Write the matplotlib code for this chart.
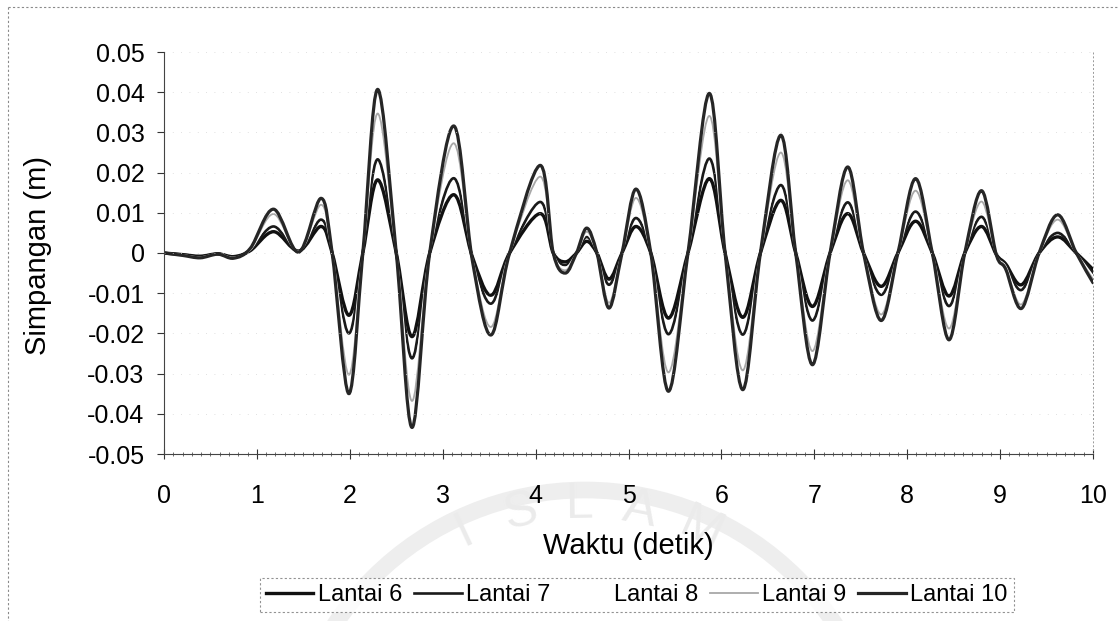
import numpy as np
import matplotlib
matplotlib.use("Agg")
import matplotlib.pyplot as plt
from matplotlib.path import Path
from matplotlib.patches import PathPatch, Circle
from matplotlib.lines import Line2D
from matplotlib.ticker import MultipleLocator, FuncFormatter

plt.rcParams['font.family'] = ['Liberation Sans', 'DejaVu Sans']

# waktu (detik): puncak, lembah dan titik nol tiap siklus
waktu = [0.0, 0.2, 0.39, 0.58, 0.75, 0.93, 1.18, 1.45, 1.69, 1.81,
         1.99, 2.14, 2.30, 2.50, 2.67, 2.86, 3.12, 3.32, 3.52, 3.72,
         4.05, 4.19, 4.32, 4.44, 4.55, 4.66, 4.79, 4.93, 5.08, 5.24,
         5.43, 5.64, 5.87, 6.04, 6.23, 6.42, 6.64, 6.80, 6.98, 7.17,
         7.36, 7.53, 7.72, 7.90, 8.09, 8.27, 8.45, 8.62, 8.80, 8.96,
         9.06, 9.23, 9.42, 9.62, 9.82, 10.0]

# simpangan (m) tiap lantai
lantai_6 = [0, -0.0004, -0.0008, -0.0002, -0.0009, 0.0006, 0.0053, 0.0005, 0.0066, 0,
            -0.0155, 0, 0.0182, 0, -0.0208, 0, 0.0145, -0.0010, -0.0105, 0,
            0.0098, 0, -0.0022, 0, 0.0029, 0, -0.0065, 0, 0.0066, 0,
            -0.0162, 0, 0.0185, 0, -0.0160, 0, 0.0131, 0, -0.0133, 0,
            0.0098, 0, -0.0083, 0, 0.0079, 0, -0.0107, 0, 0.0066, -0.0004,
            -0.0027, -0.0079, 0, 0.0040, 0, -0.0041]
lantai_7 = [0, -0.0004, -0.0009, -0.0002, -0.0010, 0.0007, 0.0066, 0.0004, 0.0083, 0,
            -0.0200, 0, 0.0233, 0, -0.0262, 0, 0.0186, -0.0012, -0.0126, 0,
            0.0127, 0, -0.0030, 0, 0.0040, 0, -0.0079, 0, 0.0087, 0,
            -0.0202, 0, 0.0235, 0, -0.0203, 0, 0.0169, 0, -0.0168, 0,
            0.0126, 0, -0.0104, 0, 0.0103, 0, -0.0132, 0, 0.0090, -0.0004,
            -0.0030, -0.0092, 0, 0.0050, 0, -0.0050]
lantai_8 = [0, -0.0005, -0.0010, -0.0002, -0.0011, 0.0008, 0.0082, 0.0004, 0.0101, 0,
            -0.0250, 0, 0.0290, 0, -0.0315, 0, 0.0230, -0.0015, -0.0155, 0,
            0.0158, 0, -0.0036, 0, 0.0046, 0, -0.0101, 0, 0.0112, 0,
            -0.0250, 0, 0.0288, 0, -0.0248, 0, 0.0209, 0, -0.0206, 0,
            0.0153, 0, -0.0128, 0, 0.0129, 0, -0.0160, 0, 0.0109, -0.0005,
            -0.0033, -0.0110, 0, 0.0066, 0, -0.0057]
lantai_9 = [0, -0.0005, -0.0011, -0.0003, -0.0012, 0.0010, 0.0097, 0.0003, 0.0120, 0,
            -0.0303, 0, 0.0347, 0, -0.0368, 0, 0.0273, -0.0018, -0.0184, 0,
            0.0190, 0, -0.0043, 0, 0.0053, 0, -0.0124, 0, 0.0137, 0,
            -0.0297, 0, 0.0341, 0, -0.0292, 0, 0.0250, 0, -0.0244, 0,
            0.0181, 0, -0.0153, 0, 0.0155, 0, -0.0188, 0, 0.0128, -0.0005,
            -0.0037, -0.0128, 0, 0.0083, 0, -0.0065]
lantai_10 = [0, -0.0006, -0.0012, -0.0003, -0.0013, 0.0012, 0.0109, 0.0002, 0.0136, 0,
             -0.0350, 0, 0.0407, 0, -0.0434, 0, 0.0316, -0.0020, -0.0204, 0,
             0.0218, 0, -0.0050, 0, 0.0062, 0, -0.0137, 0, 0.0159, 0,
             -0.0344, 0, 0.0397, 0, -0.0340, 0, 0.0293, 0, -0.0278, 0,
             0.0214, 0, -0.0168, 0, 0.0185, 0, -0.0216, 0, 0.0155, -0.0005,
             -0.0040, -0.0138, 0, 0.0095, 0, -0.0074]

labels = ['Lantai 6', 'Lantai 7', 'Lantai 8', 'Lantai 9', 'Lantai 10']
series = [lantai_6, lantai_7, lantai_8, lantai_9, lantai_10]
colors = ['#111111', '#1a1a1a', '#ffffff', '#a8a8a8', '#262626']
widths = [2.4, 1.9, 1.2, 1.3, 2.3]


def smooth_path(x, y):
    # garis halus (kurva Bezier Catmull-Rom) melalui titik data
    pts = np.column_stack([x, y]).astype(float)
    n = len(pts)
    verts = [pts[0]]
    codes = [Path.MOVETO]
    for i in range(n - 1):
        p0 = pts[i - 1] if i > 0 else pts[i]
        p1 = pts[i]
        p2 = pts[i + 1]
        p3 = pts[i + 2] if i + 2 < n else pts[i + 1]
        verts += [p1 + (p2 - p0) / 6.0, p2 - (p3 - p1) / 6.0, p2]
        codes += [Path.CURVE4] * 3
    return Path(verts, codes)


def fmt(v, pos):
    v = round(v, 3) + 0.0
    return '%g' % v


W, H = 1119, 621
fig = plt.figure(figsize=(W / 100, H / 100), dpi=100)

# latar: bingkai titik-titik dan logo samar
bg = fig.add_axes([0, 0, 1, 1], zorder=0)
bg.set_xlim(0, W)
bg.set_ylim(H, 0)
bg.axis('off')
bg.plot([8, 8], [7, H], color='#8a8a8a', lw=0.8, ls=(0, (2, 2)))
bg.plot([8, W], [7, 7], color='#8a8a8a', lw=0.8, ls=(0, (2, 2)))
bg.add_patch(Circle((585, 790), 300, fill=False, edgecolor='#eeeeee', lw=12))
for huruf, sudut in zip('ISLAM', [-25, -13, -1, 11, 24]):
    a = np.radians(sudut)
    bg.text(585 + 285 * np.sin(a), 790 - 285 * np.cos(a), huruf, fontsize=36,
            color='#ebebeb', ha='center', va='center', rotation=-sudut)

ax = fig.add_axes([164 / W, 1 - 454 / H, (1093 - 164) / W, (454 - 52) / H], zorder=1)
ax.set_facecolor('none')

for y, c, lw in zip(series, colors, widths):
    ax.add_patch(PathPatch(smooth_path(waktu, y), fill=False, edgecolor=c,
                           lw=lw, capstyle='round', joinstyle='round'))

ax.set_xlim(0, 10)
ax.set_ylim(-0.05, 0.05)
ax.xaxis.set_major_locator(MultipleLocator(1))
ax.xaxis.set_minor_locator(MultipleLocator(0.1))
ax.yaxis.set_major_locator(MultipleLocator(0.01))
ax.yaxis.set_major_formatter(FuncFormatter(fmt))
ax.xaxis.set_major_formatter(FuncFormatter(fmt))

ax.tick_params(axis='x', which='major', direction='inout', length=7, width=0.8,
               pad=18, labelsize=18, colors='#333333', labelcolor='black')
ax.tick_params(axis='x', which='minor', direction='inout', length=3.5, width=0.6,
               colors='#555555')
ax.tick_params(axis='y', which='major', direction='out', length=5, width=0.8,
               pad=9, labelsize=18, colors='#333333', labelcolor='black')

ax.spines['top'].set_visible(False)
ax.spines['left'].set_color('#444444')
ax.spines['bottom'].set_color('#444444')
ax.spines['right'].set_color('#999999')
ax.spines['right'].set_linestyle((0, (1, 3)))
ax.spines['right'].set_linewidth(0.7)
ax.grid(axis='y', color='#d6d6d6', ls=(0, (1, 9)), lw=0.6)

fig.text(38 / W, 1 - 255 / H, 'Simpangan (m)', rotation=90, fontsize=21,
         ha='center', va='center')
fig.text(628 / W, 1 - 546 / H, 'Waktu (detik)', fontsize=21,
         ha='center', va='center')

handles = [Line2D([], [], color=c, lw=lw) for c, lw in zip(colors, widths)]
leg = fig.legend(handles, labels, loc='center', ncol=5,
                 bbox_to_anchor=(637 / W, 1 - 595 / H), fontsize=17,
                 frameon=True, fancybox=False, handlelength=2.0,
                 handletextpad=0.2, columnspacing=0.5, borderpad=0.25,
                 borderaxespad=0)
leg.get_frame().set_edgecolor('#777777')
leg.get_frame().set_linewidth(0.8)
leg.get_frame().set_linestyle((0, (2, 2)))

fig.savefig('out.png', dpi=100)
